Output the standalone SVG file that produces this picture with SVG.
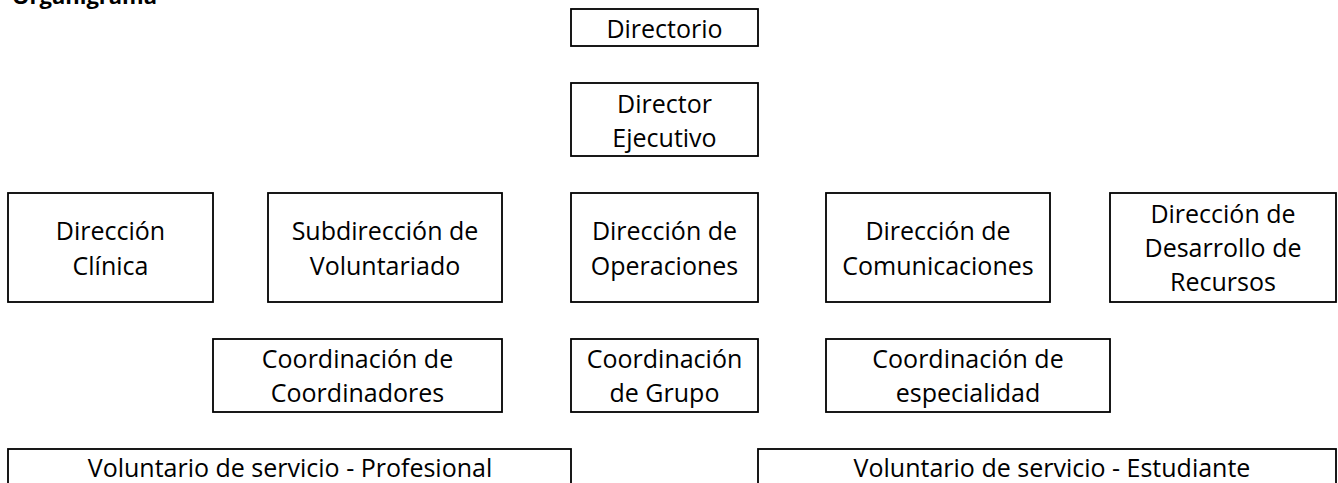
<svg xmlns="http://www.w3.org/2000/svg" width="1338" height="483" viewBox="0 0 1338 483">
<style>
.box{fill:#fff;stroke:#000;stroke-width:1.8}
.t{font-family:"Open Sans","Noto Sans",sans-serif;font-size:25px;fill:#000;text-anchor:middle}
.title{font-family:"Open Sans","Noto Sans",sans-serif;font-size:22px;font-weight:bold;fill:#000}
</style>
<rect width="1338" height="483" fill="#fff"/>
<text class="title" x="12" y="4">Organigrama</text>
<g id="connectors"></g>
<g id="n-directorio"><rect class="box" x="571" y="9" width="187" height="37"/><text class="t" x="664.5" y="38">Directorio</text></g>
<g id="n-director-ejecutivo"><rect class="box" x="571" y="83" width="187" height="73"/><text class="t" x="664.5" y="113">Director</text><text class="t" x="664.5" y="147">Ejecutivo</text></g>
<g id="n-direccion-clinica"><rect class="box" x="8" y="193" width="205" height="109"/><text class="t" x="110.5" y="240">Dirección</text><text class="t" x="110.5" y="275">Clínica</text></g>
<g id="n-subdireccion-voluntariado"><rect class="box" x="268" y="193" width="234" height="109"/><text class="t" x="385" y="240">Subdirección de</text><text class="t" x="385" y="275">Voluntariado</text></g>
<g id="n-direccion-operaciones"><rect class="box" x="571" y="193" width="187" height="109"/><text class="t" x="664.5" y="240">Dirección de</text><text class="t" x="664.5" y="275">Operaciones</text></g>
<g id="n-direccion-comunicaciones"><rect class="box" x="826" y="193" width="224" height="109"/><text class="t" x="938" y="240">Dirección de</text><text class="t" x="938" y="275">Comunicaciones</text></g>
<g id="n-direccion-desarrollo"><rect class="box" x="1110" y="193" width="226" height="109"/><text class="t" x="1223" y="223">Dirección de</text><text class="t" x="1223" y="257">Desarrollo de</text><text class="t" x="1223" y="291">Recursos</text></g>
<g id="n-coord-coordinadores"><rect class="box" x="213" y="339" width="289" height="73"/><text class="t" x="357.5" y="368">Coordinación de</text><text class="t" x="357.5" y="402">Coordinadores</text></g>
<g id="n-coord-grupo"><rect class="box" x="571" y="339" width="187" height="73"/><text class="t" x="664.5" y="368">Coordinación</text><text class="t" x="664.5" y="402">de Grupo</text></g>
<g id="n-coord-especialidad"><rect class="box" x="826" y="339" width="284" height="73"/><text class="t" x="968" y="368">Coordinación de</text><text class="t" x="968" y="402">especialidad</text></g>
<g id="n-vol-profesional"><rect class="box" x="8" y="449" width="563" height="44"/><text class="t" x="290" y="477">Voluntario de servicio - Profesional</text></g>
<g id="n-vol-estudiante"><rect class="box" x="758" y="449" width="578" height="44"/><text class="t" x="1052" y="477">Voluntario de servicio - Estudiante</text></g>
</svg>
